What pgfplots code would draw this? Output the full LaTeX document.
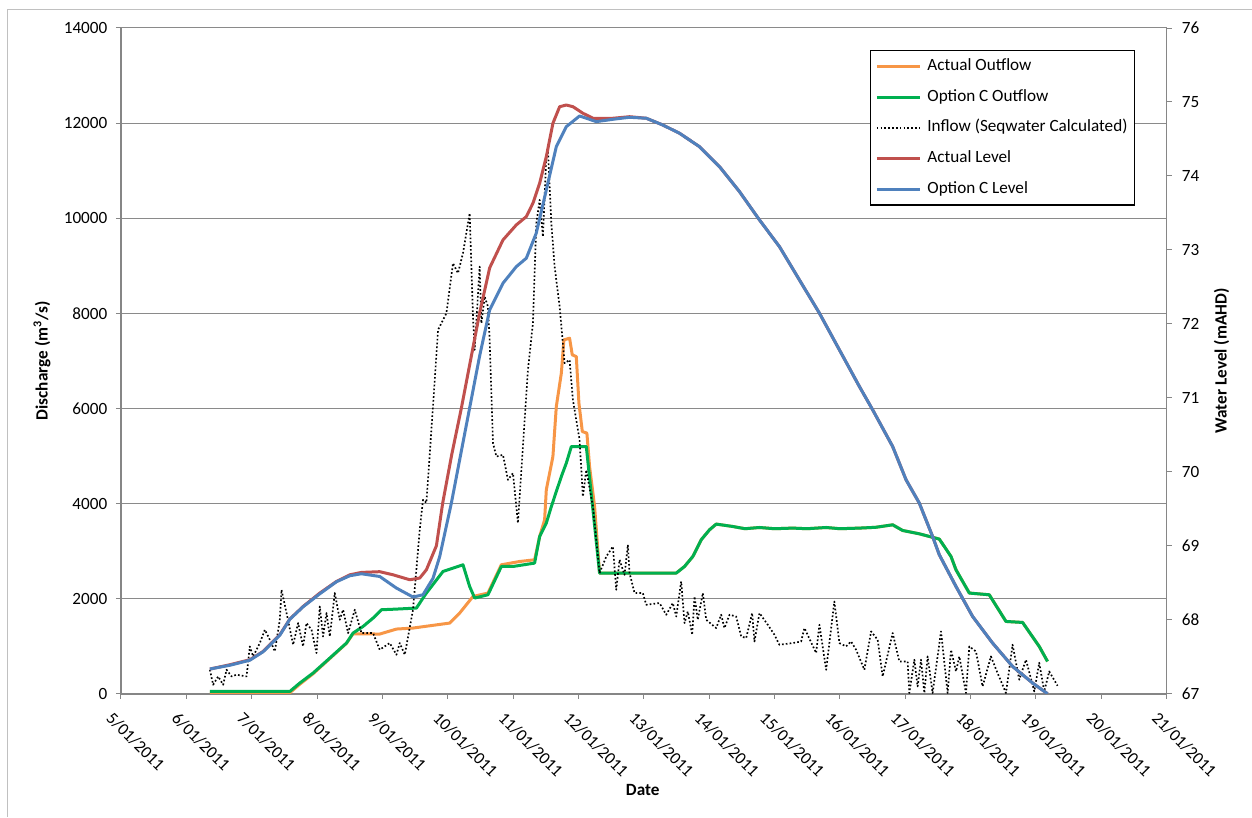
\documentclass[border=0pt]{standalone}
\usepackage{fontspec}
\setmainfont{Carlito}
\usepackage{pgfplots}
\pgfplotsset{compat=1.18}
\definecolor{cOrange}{HTML}{F79646}
\definecolor{cGreen}{HTML}{00B050}
\definecolor{cRed}{HTML}{C0504D}
\definecolor{cBlue}{HTML}{4F81BD}
\definecolor{cGrid}{HTML}{8A8A8A}
\definecolor{cAxis}{HTML}{868686}
\definecolor{cBorder}{HTML}{C0C0C0}
\begin{document}
\begin{tikzpicture}[font=\fontsize{10.3}{12}\selectfont]
\pgfplotsset{
  common/.style={
    scale only axis, width=627.6pt, height=399.6pt,
    at={(0pt,0pt)}, anchor=south west,
    xmin=5, xmax=21,
    /pgf/number format/assume math mode=true,
    tick align=outside, major tick length=3pt,
    tick style={cAxis, line width=0.6pt},
    axis line style={cAxis, line width=1pt, -},
    every axis plot/.append style={line join=round},
  },
  flowline/.style={line width=1.8pt},
  dotline/.style={black, line width=1pt, dash pattern=on 1pt off 1.3pt},
}
% outer chart border (left and top edges)
\draw[cBorder, line width=0.6pt] (-67.8pt,-73.8pt) -- (-67.8pt,410.4pt) -- (678.6pt,410.4pt);
\begin{axis}[common,
  ymin=0, ymax=14000, ytick={0,2000,...,14000},
  axis x line*=bottom, axis y line*=left,
  ymajorgrids, grid style={cGrid, line width=0.6pt},
  scaled y ticks=false,
  yticklabel style={/pgf/number format/1000 sep={}, inner sep=1pt, xshift=-4pt},
  xtick={5,...,21},
  xticklabels={5/01/2011,6/01/2011,7/01/2011,8/01/2011,9/01/2011,10/01/2011,11/01/2011,12/01/2011,13/01/2011,14/01/2011,15/01/2011,16/01/2011,17/01/2011,18/01/2011,19/01/2011,20/01/2011,21/01/2011},
  xticklabel style={rotate=-45, anchor=north west, inner sep=1pt, xshift=1pt, yshift=-7pt},
  ylabel={\textbf{Discharge (m\textsuperscript{3}/s)}},
  ylabel style={at={(axis description cs:-0.0755,0.5)}, anchor=center},
  xlabel={\textbf{Date}},
  xlabel style={at={(axis description cs:0.499,-0.144)}, anchor=center},
]
% Actual Outflow
\addplot[cOrange, flowline] coordinates {
(6.361,20) (7.584,20) (7.737,200) (7.940,420) (8.196,740) (8.451,1060) (8.552,1261)
(8.960,1255) (9.216,1360) (9.469,1381) (9.725,1429) (10.031,1486) (10.183,1696)
(10.387,2045) (10.616,2117) (10.821,2712) (11.101,2781) (11.330,2817) (11.407,3306)
(11.483,3657) (11.509,4288) (11.610,4988) (11.662,6039) (11.739,6741) (11.778,7441)
(11.865,7477) (11.906,7126) (11.968,7090) (12.008,6111) (12.060,5514) (12.130,5480)
(12.171,4778) (12.248,3937) (12.324,2537) (13.497,2537) (13.624,2676) (13.751,2886)
(13.879,3237) (14.006,3447) (14.109,3567) (14.362,3517) (14.55,3470) (14.771,3496)
(15.0,3470) (15.280,3483) (15.5,3470) (15.791,3496) (16.0,3470) (16.300,3483)
(16.55,3500) (16.809,3552) (16.962,3433) (17.217,3363) (17.523,3252) (17.702,2886)
(17.778,2606) (17.982,2117) (18.287,2081) (18.543,1520) (18.797,1499) (19.052,994)
(19.179,679)
};
% Option C Outflow
\addplot[cGreen, flowline] coordinates {
(6.361,48) (7.584,48) (7.737,225) (7.940,435) (8.196,750) (8.451,1066) (8.552,1276)
(8.705,1415) (8.858,1591) (8.986,1766) (9.216,1780) (9.521,1801) (9.674,2117)
(9.928,2571) (10.234,2712) (10.336,2255) (10.413,2012) (10.616,2081) (10.821,2676)
(10.999,2676) (11.330,2747) (11.407,3306) (11.509,3588) (11.586,3937) (11.662,4252)
(11.739,4568) (11.815,4849) (11.892,5198) (12.121,5198) (12.324,2537) (13.497,2537)
(13.624,2676) (13.751,2886) (13.879,3237) (14.006,3447) (14.109,3567) (14.362,3517)
(14.55,3470) (14.771,3496) (15.0,3470) (15.280,3483) (15.5,3470) (15.791,3496)
(16.0,3470) (16.300,3483) (16.55,3500) (16.809,3552) (16.962,3433) (17.217,3363)
(17.523,3252) (17.702,2886) (17.778,2606) (17.982,2117) (18.287,2081) (18.543,1520)
(18.797,1499) (19.052,994) (19.179,679)
};
% Inflow (Seqwater Calculated)
\addplot[dotline] coordinates {
(6.361,504) (6.411,189) (6.488,364) (6.564,189) (6.616,504) (6.693,364) (6.769,399)
(6.922,364) (6.972,994) (7.023,784) (7.125,1066) (7.202,1345) (7.278,1135) (7.355,889)
(7.431,1555) (7.457,2186) (7.534,1696) (7.635,1030) (7.711,1486) (7.787,994) (7.839,1486)
(7.916,1345) (7.992,856) (8.043,1835) (8.093,1204) (8.145,1696) (8.196,1204) (8.272,2117)
(8.349,1555) (8.399,1766) (8.476,1276) (8.578,1766) (8.680,1276) (8.858,1276) (8.960,925)
(9.113,1066) (9.216,820) (9.266,1066) (9.343,820) (9.469,1766) (9.572,3447) (9.622,4078)
(9.674,4015) (9.775,6039) (9.852,7651) (9.928,7861) (9.980,8002) (10.081,9053)
(10.157,8843) (10.234,9264) (10.336,10104) (10.387,7931) (10.413,7231) (10.489,8982)
(10.515,7792) (10.566,8351) (10.616,8141) (10.642,7441) (10.693,5270) (10.745,4988)
(10.846,5024) (10.922,4498) (10.999,4639) (11.075,3588) (11.228,6810) (11.304,7792)
(11.356,9894) (11.407,10384) (11.457,9612) (11.509,11294) (11.534,11435) (11.586,9894)
(11.636,8982) (11.713,8141) (11.789,6951) (11.865,7021) (11.916,6180) (12.018,5339)
(12.069,4147) (12.121,4708) (12.222,3937) (12.324,2537) (12.427,2886) (12.528,3096)
(12.579,2186) (12.630,2817) (12.706,2501) (12.757,3132) (12.783,2537) (12.859,2117)
(12.986,2117) (13.038,1871) (13.242,1907) (13.344,1661) (13.445,1907) (13.497,1625)
(13.573,2361) (13.624,1486) (13.674,1730) (13.742,1240) (13.777,2045) (13.827,1555)
(13.904,2117) (13.956,1555) (14.108,1381) (14.185,1661) (14.235,1381) (14.312,1661)
(14.414,1625) (14.491,1204) (14.567,1171) (14.659,1696) (14.694,1099) (14.771,1696)
(14.898,1450) (15.000,1240) (15.076,1030) (15.280,1066) (15.408,1099) (15.459,1381)
(15.638,856) (15.688,1450) (15.791,504) (15.917,1940) (15.994,1066) (16.096,994)
(16.173,1099) (16.249,925) (16.376,504) (16.479,1310) (16.580,1135) (16.656,364)
(16.809,1276) (16.911,679) (17.038,679) (17.064,15) (17.141,715) (17.191,153)
(17.243,715) (17.294,15) (17.344,784) (17.420,15) (17.549,1310) (17.650,15)
(17.702,925) (17.778,469) (17.829,784) (17.931,15) (17.982,994) (18.084,889)
(18.185,153) (18.313,784) (18.414,435) (18.543,15) (18.644,1030) (18.746,294)
(18.849,715) (18.976,48) (19.052,652) (19.128,48) (19.205,469) (19.332,168)
};
\end{axis}
\begin{axis}[common,
  ymin=67, ymax=76, ytick={67,...,76},
  axis y line*=right, axis x line=none,
  yticklabel style={inner sep=1pt, xshift=5pt},
  ylabel={\textbf{Water Level (mAHD)}},
  ylabel style={at={(axis description cs:1.0526,0.5)}, anchor=center},
  legend style={at={(axis description cs:0.716,0.967)}, anchor=north west,
    draw=black, line width=0.8pt, fill=white, inner xsep=3pt, inner ysep=4pt,
    row sep=7.4pt, font=\fontsize{10.3}{12}\selectfont,
    nodes={inner sep=1pt, text height=7pt, text depth=2pt},
    /tikz/every odd column/.append style={column sep=2.5pt}},
  legend cell align=left,
  legend image code/.code={\draw[#1] (0pt,0pt) -- (26pt,0pt);},
]
\addlegendimage{cOrange, flowline}
\addlegendentry{Actual Outflow}
\addlegendimage{cGreen, flowline}
\addlegendentry{Option C Outflow}
\addlegendimage{dotline}
\addlegendentry{Inflow (Seqwater Calculated)}
% Actual Level
\addplot[cRed, flowline] coordinates {
(6.361,67.334) (6.667,67.392) (6.972,67.459) (7.176,67.572) (7.431,67.797) (7.584,68.009)
(7.788,68.180) (8.043,68.361) (8.298,68.518) (8.502,68.608) (8.680,68.640) (8.960,68.650)
(9.163,68.608) (9.419,68.541) (9.572,68.564) (9.674,68.676) (9.827,69.000) (9.924,69.581)
(10.061,70.230) (10.210,70.865) (10.336,71.446) (10.489,72.149) (10.642,72.757)
(10.846,73.135) (11.050,73.338) (11.203,73.450) (11.304,73.631) (11.407,73.901)
(11.509,74.261) (11.610,74.712) (11.713,74.936) (11.815,74.959) (11.917,74.936)
(12.070,74.847) (12.223,74.780) (12.529,74.780) (12.783,74.801) (13.039,74.780)
(13.291,74.689) (13.547,74.577) (13.853,74.396) (14.159,74.126) (14.465,73.788)
(14.771,73.405) (15.076,73.045) (15.382,72.595) (15.688,72.145) (15.994,71.649)
(16.300,71.153) (16.503,70.838) (16.809,70.342) (17.014,69.892) (17.217,69.577)
(17.420,69.126) (17.523,68.878) (17.778,68.450) (18.032,68.045) (18.338,67.685)
(18.644,67.369) (18.950,67.145) (19.179,67.000)
};
\addlegendentry{Actual Level}
% Option C Level
\addplot[cBlue, flowline] coordinates {
(6.361,67.334) (6.667,67.385) (6.972,67.453) (7.176,67.568) (7.431,67.791) (7.584,68.007)
(7.788,68.176) (8.043,68.351) (8.298,68.514) (8.502,68.595) (8.680,68.622) (8.960,68.585)
(9.216,68.428) (9.470,68.307) (9.622,68.338) (9.775,68.560) (9.878,68.855) (10.057,69.581)
(10.183,70.162) (10.336,70.865) (10.489,71.568) (10.642,72.189) (10.846,72.550)
(11.050,72.774) (11.203,72.888) (11.355,73.226) (11.509,73.811) (11.662,74.396)
(11.815,74.666) (12.018,74.811) (12.274,74.734) (12.528,74.766) (12.783,74.793)
(13.039,74.780) (13.291,74.689) (13.547,74.577) (13.853,74.396) (14.159,74.126)
(14.465,73.788) (14.771,73.405) (15.076,73.045) (15.382,72.595) (15.688,72.145)
(15.994,71.649) (16.300,71.153) (16.503,70.838) (16.809,70.342) (17.014,69.892)
(17.217,69.577) (17.420,69.126) (17.523,68.878) (17.778,68.450) (18.032,68.045)
(18.338,67.685) (18.644,67.369) (18.950,67.145) (19.179,67.000)
};
\addlegendentry{Option C Level}
\end{axis}
\path[use as bounding box] (-72.6pt,-73.8pt) rectangle (678.6pt,416.4pt);
\end{tikzpicture}
\end{document}
